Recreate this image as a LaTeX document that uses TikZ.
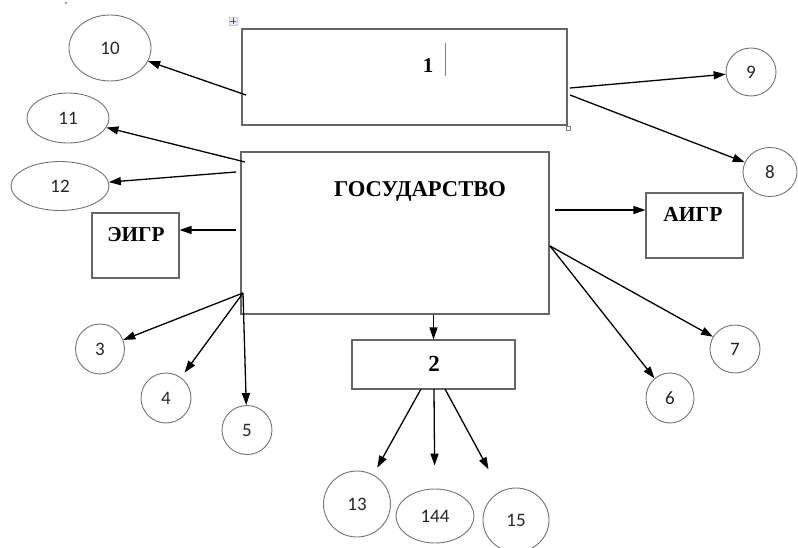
\documentclass[tikz,border=0pt]{standalone}
\usepackage{fontspec}
\setmainfont{Liberation Serif}
\newfontfamily\calib{Carlito}
\usetikzlibrary{shapes.geometric,arrows.meta}

\begin{document}
\begin{tikzpicture}[x=1pt,y=-1pt]
		\useasboundingbox (0,0) rectangle (798,548);
		
		\begin{scope}[every node/.style={rectangle,draw=black!60,line width=1.1pt,inner sep=0pt}]
			\node[minimum width=325pt,minimum height=96pt] (B1) at (404.5,77) {};
			\node[minimum width=308pt,minimum height=162pt] (G) at (395,233) {};
			\node[minimum width=87pt,minimum height=65pt] (E) at (135.5,245.5) {};
			\node[minimum width=97pt,minimum height=65pt] (A) at (694.5,225.5) {};
			\node[minimum width=163pt,minimum height=49pt] (B2) at (433.5,364.5) {};
		\end{scope}
		
		\begin{scope}[every node/.style={anchor=base,inner sep=0pt,font=\bfseries\fontsize{21}{21}\selectfont}]
			\node (B1t) at (428,73) {1};
			\node[font=\bfseries\fontsize{22.6}{22.6}\selectfont] (Gt) at (420,197) {ГОСУДАРСТВО};
			\node[font=\bfseries\fontsize{21.2}{21.2}\selectfont] (Et) at (136,242) {ЭИГР};
			\node[font=\bfseries\fontsize{21.5}{21.5}\selectfont] (At) at (693,222) {АИГР};
			\node[font=\bfseries\fontsize{23}{23}\selectfont] (B2t) at (434,371) {2};
		\end{scope}
		
		\begin{scope}[every node/.style={ellipse,draw=black!55,line width=0.9pt,inner sep=0pt,text=black!85,font=\calib\fontsize{19}{19}\selectfont}]
			\node[minimum width=82pt,minimum height=66pt] (n10) at (110,48) {10};
			\node[minimum width=82pt,minimum height=50pt] (n11) at (68,118) {11};
			\node[minimum width=98pt,minimum height=49pt] (n12) at (60,186) {12};
			\node[minimum width=50pt,minimum height=48pt] (n9) at (751,72) {9};
			\node[minimum width=54pt,minimum height=49pt] (n8) at (770,172) {8};
			\node[minimum width=50pt,minimum height=48pt] (n7) at (735,349) {7};
			\node[minimum width=48pt,minimum height=50pt] (n6) at (670,398) {6};
			\node[minimum width=49pt,minimum height=50pt] (n3) at (100,349) {3};
			\node[minimum width=50pt,minimum height=50pt] (n4) at (166,398) {4};
			\node[minimum width=50pt,minimum height=49pt] (n5) at (247,430) {5};
			\node[minimum width=67pt,minimum height=66pt] (n13) at (357,504) {13};
			\node[minimum width=78pt,minimum height=54pt] (n144) at (435,516) {144};
			\node[minimum width=66pt,minimum height=64pt] (n15) at (516,520) {15};
		\end{scope}
		
		\coordinate (b1w) at (246,95);
		\coordinate (b1e1) at (570,88);
		\coordinate (b1e2) at (570,95);
		\coordinate (gw1) at (245,162);
		\coordinate (gw2) at (236,172);
		\coordinate (gw3) at (236,230);
		\coordinate (gsw) at (243,293);
		\coordinate (ge1) at (555,210);
		\coordinate (ge2) at (550,246);
		\coordinate (b2s1) at (421,389);
		\coordinate (b2s2) at (434,389);
		\coordinate (b2s3) at (445,389);
		
		\begin{scope}[every edge/.style={draw,line width=1.3pt,-{Triangle[length=12pt,width=8pt]}}]
			\path (b1w) edge (n10);
			\path (b1e1) edge (n9);
			\path (b1e2) edge (n8);
			\path (gw1) edge (n11);
			\path (gw2) edge (n12);
			\path (gw3) edge (gw3 -| E.east);
			\path (ge1) edge (ge1 -| A.west);
			\path (ge2) edge (n7);
			\path (ge2) edge (n6);
			\path (gsw) edge (n3);
			\path (gsw) edge[shorten >=6pt] (n4);
			\path (gsw) edge (n5);
			\path (B2.north |- G.south) edge (B2.north);
			\path (b2s1) edge[shorten >=8pt] (n13);
			\path (b2s2) edge[shorten >=23pt] (n144);
			\path (b2s3) edge[shorten >=25pt] (n15);
		\end{scope}
		
		\draw[black!50,line width=1pt] (445,43) -- (445,76);
		\node[draw=black!20,fill=black!8,minimum size=8pt,inner sep=0pt] (hdl) at (233,21) {};
		\draw[blue!60!black!70,line width=0.8pt] (230,21) -- (236,21) (233,18) -- (233,24);
		\node[draw=black!50,fill=white,line width=0.5pt,minimum size=4pt,inner sep=0pt] (hdl2) at (568,128) {};
		\fill[black!60] (66,3) circle (1);
	\end{tikzpicture}
\end{document}
